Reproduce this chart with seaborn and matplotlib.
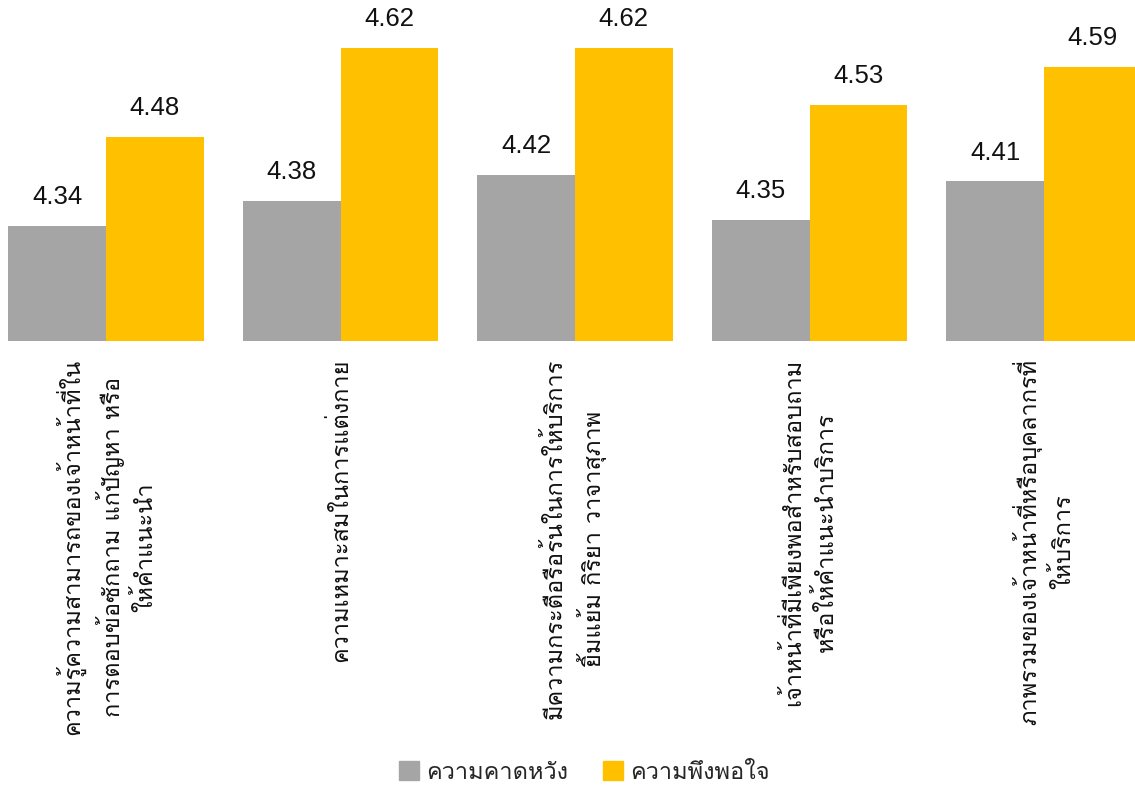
import matplotlib
matplotlib.use("Agg")
import matplotlib.pyplot as plt
from matplotlib import font_manager, ft2font
import seaborn as sns
import pandas as pd

categories = [
    "ความรู้ความสามารถของเจ้าหน้าที่ใน\nการตอบข้อซักถาม แก้ปัญหา หรือ\nให้คำแนะนำ",
    "ความเหมาะสมในการแต่งกาย",
    "มีความกระตือรือร้นในการให้บริการ\nยิ้มแย้ม กิริยา วาจาสุภาพ",
    "เจ้าหน้าที่มีเพียงพอสำหรับสอบถาม\nหรือให้คำแนะนำบริการ",
    "ภาพรวมของเจ้าหน้าที่หรือบุคลากรที่\nให้บริการ",
]
series_names = ["ความคาดหวัง", "ความพึงพอใจ"]
expectation = [4.34, 4.38, 4.42, 4.35, 4.41]
satisfaction = [4.48, 4.62, 4.62, 4.53, 4.59]
colors = ["#A5A5A5", "#FFC000"]


def thai_font_families():
    """Installed families that actually contain Thai glyphs."""
    found = []
    for entry in font_manager.fontManager.ttflist:
        try:
            cmap = ft2font.FT2Font(entry.fname).get_charmap()
        except Exception:
            continue
        if 0x0E01 in cmap and entry.name not in found:
            found.append(entry.name)
    return found


thai = thai_font_families()
sns.set_theme(style="white")
plt.rcParams["font.family"] = thai + ["DejaVu Sans"]

df = pd.DataFrame({
    "category": categories * 2,
    "series": [series_names[0]] * len(categories) + [series_names[1]] * len(categories),
    "value": expectation + satisfaction,
})

fig = plt.figure(figsize=(11.35, 7.87), dpi=100)
ax = fig.add_axes([0.0, (787 - 340.7) / 787, 1.0, 340.7 / 787])

sns.barplot(data=df, x="category", y="value", hue="series", palette=colors,
            width=0.832, gap=0, saturation=1, ax=ax, legend=False,
            edgecolor="none", linewidth=0)

ax.set_ylim(4.16, 4.695)
ax.set_xlim(-106 / 234.5, (1135 - 106) / 234.5)
for container in ax.containers:
    ax.bar_label(container, fmt="%.2f", padding=12, fontsize=18.5,
                 family=["Liberation Sans", "DejaVu Sans"], color="#111111")

for side in ["top", "right", "left", "bottom"]:
    ax.spines[side].set_visible(False)
ax.set_yticks([])
ax.set_xlabel("")
ax.set_ylabel("")
ax.tick_params(axis="x", length=0, pad=13)
for lbl in ax.get_xticklabels():
    lbl.set_rotation(90)
    lbl.set_ha("center")
    lbl.set_va("top")
    lbl.set_multialignment("center")
    lbl.set_fontsize(17)
    lbl.set_linespacing(1.45)
    lbl.set_color("#111111")

handles = [plt.Rectangle((0, 0), 1, 1, color=c) for c in colors]
fig.legend(handles, series_names, loc="lower center", ncol=2, frameon=False,
           fontsize=17, handlelength=0.85, handleheight=0.85, columnspacing=1.5,
           handletextpad=0.3, borderpad=0.0, borderaxespad=0.0,
           bbox_to_anchor=(0.515, 0.004))

fig.savefig("out.png", dpi=100, facecolor="white")
